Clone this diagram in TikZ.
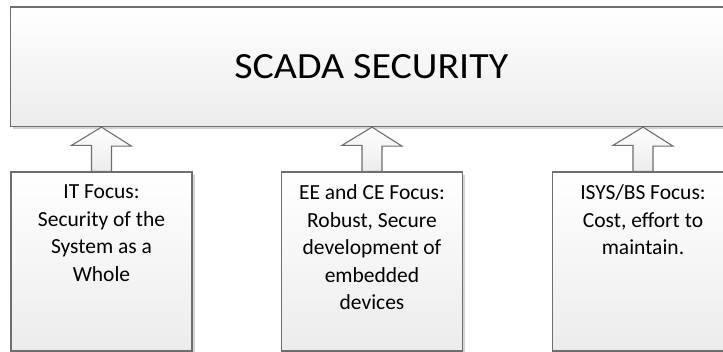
\documentclass[tikz,border=0pt]{standalone}
\usepackage{fontspec}
\setmainfont{Carlito}
\newfontfamily\titlefont[FakeStretch=1.08]{Carlito}
\usetikzlibrary{shadows,calc}
\definecolor{edge}{RGB}{110,110,110}
\definecolor{shade}{RGB}{236,236,236}
\definecolor{shadowgray}{RGB}{212,212,212}
\tikzset{
  boxbase/.style={draw=edge, line width=1.3pt, top color=white, bottom color=shade,
    drop shadow={shadow xshift=2.5pt, shadow yshift=-3pt, fill=shadowgray, opacity=1}},
  bigbox/.style={boxbase, minimum width=721.5pt, minimum height=119.5pt, inner sep=0pt,
    font=\titlefont\fontsize{37}{44}\selectfont},
  lowbox/.style={boxbase, minimum width=181pt, minimum height=179pt, inner xsep=3pt, inner ysep=13pt,
    font=\fontsize{21.5}{27.5}\selectfont},
  blockarrow/.style={draw=edge, line width=1.1pt, top color=white, bottom color=shade, line join=miter}
}
\newcommand{\lowtext}[1]{\parbox[c][153pt][t]{175pt}{\centering #1}}
\begin{document}
\begin{tikzpicture}[x=1pt,y=-1pt]
\clip (0,0) rectangle (723,352);
\useasboundingbox (0,0) rectangle (723,352);
\node[bigbox] (top) at (371.25,66.75) {SCADA SECURITY};
\node[lowbox] (it) at (101.5,261.5) {\lowtext{IT Focus:\\ Security of the\\ System as a\\ Whole}};
\node[lowbox] (ee) at (372,261.5) {\lowtext{EE and CE Focus:\\ Robust, Secure\\ development of\\ embedded\\ devices}};
\node[lowbox] (is) at (643,261.5) {\lowtext{ISYS/BS Focus:\\ Cost, effort to\\ maintain.}};
\foreach \b in {it,ee,is}{
  \draw[blockarrow] ([xshift=-10pt]\b.north) -- ++(0,-26) -- ++(-20,0) -- (\b.north |- top.south)
    -- ++(30,19) -- ++(-20,0) -- ([xshift=10pt]\b.north) -- cycle;
}
\end{tikzpicture}
\end{document}
